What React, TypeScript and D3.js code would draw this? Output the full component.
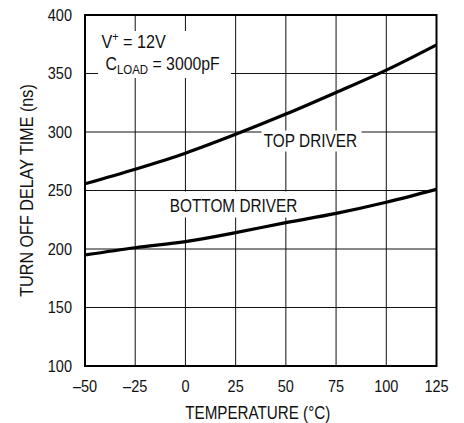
import React from 'react'
import * as d3 from 'd3'

// temperature (°C) vs turn off delay time (ns)
const temps = [-50, -25, 0, 25, 50, 75, 100, 125]
const topDriver = [255.7, 268.2, 281.9, 298, 315.3, 333.8, 352.9, 374.5]
const bottomDriver = [194.9, 201.1, 206.3, 214, 222.5, 230.5, 240, 251]

const xTicks = [-50, -25, 0, 25, 50, 75, 100, 125]
const yTicks = [100, 150, 200, 250, 300, 350, 400]

const W = 464
const H = 423
const M = { left: 85, right: 27.5, top: 15, bottom: 57 }
const FONT = "'Liberation Sans', Arial, sans-serif"

// narrow text: Liberation Sans squeezed horizontally
const NText: React.FC<{
  x: number
  y: number
  sx?: number
  rotate?: number
  anchor?: 'start' | 'middle' | 'end'
  dy?: string
  size: number
  children: React.ReactNode
}> = ({ x, y, sx = 0.84, rotate = 0, anchor = 'start', dy, size, children }) => (
  <text
    transform={`translate(${x},${y}) rotate(${rotate}) scale(${sx},1)`}
    textAnchor={anchor}
    dy={dy}
    fontSize={size}
    fill="#111"
  >
    {children}
  </text>
)

export default function App() {
  const x = d3.scaleLinear().domain([-50, 125]).range([M.left, W - M.right])
  const y = d3.scaleLinear().domain([100, 400]).range([H - M.bottom, M.top])

  const line = d3.line<number>()
    .x((_, i) => x(temps[i]))
    .y((d) => y(d))
    .curve(d3.curveMonotoneX)

  const fmt = (v: number) => (v < 0 ? `–${Math.abs(v)}` : `${v}`)

  return (
    <svg
      width={W}
      height={H}
      style={{ position: 'absolute', left: 0, top: 0, background: '#fff' }}
      fontFamily={FONT}
    >
      {/* grid */}
      <g stroke="#111" strokeWidth={1}>
        {xTicks.map((t) => (
          <line key={`gx${t}`} x1={x(t)} x2={x(t)} y1={y(100)} y2={y(400)} />
        ))}
        {yTicks.map((t) => (
          <line key={`gy${t}`} x1={x(-50)} x2={x(125)} y1={y(t)} y2={y(t)} />
        ))}
      </g>

      {/* label backgrounds cut the grid */}
      <g fill="#fff">
        <rect x={98} y={31} width={133} height={47} />
        <rect x={261.5} y={130.5} width={100} height={21} />
        <rect x={168} y={191.5} width={132} height={26} />
      </g>

      {/* frame */}
      <rect
        x={x(-50)}
        y={y(400)}
        width={x(125) - x(-50)}
        height={y(100) - y(400)}
        fill="none"
        stroke="#000"
        strokeWidth={2}
      />

      {/* curves */}
      <path d={line(topDriver) || ''} fill="none" stroke="#000" strokeWidth={3.2} />
      <path d={line(bottomDriver) || ''} fill="none" stroke="#000" strokeWidth={3.2} />

      {/* tick labels */}
      {yTicks.map((t) => (
        <NText key={`ty${t}`} x={x(-50) - 13} y={y(t)} dy="0.36em" anchor="end" size={16.5} sx={0.88}>
          {t}
        </NText>
      ))}
      {xTicks.map((t) => (
        <NText key={`tx${t}`} x={x(t)} y={y(100) + 26} anchor="middle" size={16.5} sx={0.88}>
          {fmt(t)}
        </NText>
      ))}

      {/* axis titles */}
      <NText x={(x(-50) + x(125)) / 2 - 3} y={419} anchor="middle" size={19} sx={0.8}>
        TEMPERATURE (°C)
      </NText>
      <NText x={32.5} y={(y(100) + y(400)) / 2} rotate={-90} anchor="middle" size={19} sx={0.85}>
        TURN OFF DELAY TIME (ns)
      </NText>

      {/* annotations */}
      <NText x={101.5} y={48} size={18} sx={0.9}>
        V<tspan fontSize={12} dy={-7}>+</tspan>
        <tspan dy={7}> = 12V</tspan>
      </NText>
      <NText x={105.5} y={70} size={18} sx={0.88}>
        C<tspan fontSize={13} dy={4}>LOAD</tspan>
        <tspan dy={-4}> = 3000pF</tspan>
      </NText>
      <NText x={x(39)} y={y(287.2)} size={18.5} sx={0.83}>
        TOP DRIVER
      </NText>
      <NText x={x(-7.8)} y={y(231.6)} size={18.5} sx={0.83}>
        BOTTOM DRIVER
      </NText>
    </svg>
  )
}
